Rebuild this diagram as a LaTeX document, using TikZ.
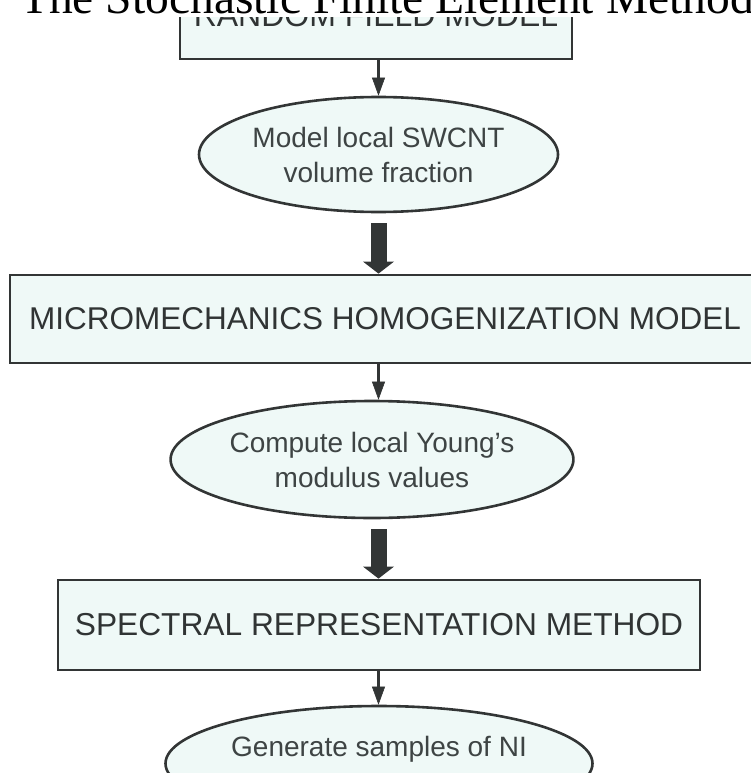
\documentclass[tikz,border=0pt]{standalone}
\usepackage{fontspec}
\setmainfont{Liberation Sans}
\newfontfamily\titlefont{Liberation Serif}
\usetikzlibrary{arrows.meta,shapes.geometric,calc}
\definecolor{fillc}{RGB}{239,249,247}
\definecolor{linec}{RGB}{50,53,53}
\definecolor{textc}{RGB}{48,52,52}
\definecolor{etextc}{RGB}{62,68,68}
\tikzset{
  boxnode/.style={draw=linec, line width=2.8pt, fill=fillc, rectangle, inner sep=0pt,
    text=textc, font=\fontsize{32}{36}\selectfont},
  ellnode/.style={draw=linec, line width=2.6pt, fill=fillc, ellipse, inner sep=0pt,
    text=etextc, align=center, font=\fontsize{28}{35}\selectfont},
  thinarrow/.style={draw=linec, line width=2.2pt,
    -{Triangle[length=18pt,width=13pt,line width=0.5pt]}},
  fatarrow/.style={draw=linec, line width=16pt,
    -{Triangle[length=12pt,width=31pt,line width=0pt]}, shorten <=10pt},
}
\begin{document}
\begin{tikzpicture}[x=1pt,y=-1pt]
\useasboundingbox (0,0) rectangle (751,773);

\node[boxnode, minimum width=392pt, minimum height=88pt] (b1) at (376,15) {RANDOM FIELD MODEL};
\node[ellnode, minimum width=359pt, minimum height=115pt] (e1) at (378.5,154.5)
  {Model local SWCNT\\volume fraction};
\node[boxnode, font=\fontsize{31.5}{36}\selectfont, minimum width=750pt, minimum height=88pt]
  (b2) at (385,319) {MICROMECHANICS HOMOGENIZATION MODEL};
\node[ellnode, minimum width=391pt, minimum height=117pt] (e2) at (372,459.5)
  {Compute local Young's\\modulus values};
\node[boxnode, font=\fontsize{31.7}{36}\selectfont, minimum width=642pt, minimum height=90pt]
  (b3) at (379,625) {SPECTRAL REPRESENTATION METHOD};
\node[ellnode, minimum width=427pt, minimum height=115pt] (e3) at (379,763.5) {};
\node[text=etextc, font=\fontsize{28}{35}\selectfont, anchor=base, inner sep=0pt]
  (t3) at (379,756) {Generate samples of NI};

\draw[thinarrow] (e1 |- b1.south) -- (e1.north);
\draw[fatarrow] (e1.south) -- (e1 |- b2.north);
\draw[thinarrow] (e1 |- b2.south) -- (e1 |- e2.north);
\draw[fatarrow] (e1 |- e2.south) -- (e1 |- b3.north);
\draw[thinarrow] (e1 |- b3.south) -- (e1 |- e3.north);

\fill[white] (0,-10) rectangle (751,17);
\node[anchor=base west, inner sep=0pt, font=\titlefont\fontsize{47.5}{50}\selectfont]
  (title) at (20,14) {The Stochastic Finite Element Method};
\end{tikzpicture}
\end{document}
